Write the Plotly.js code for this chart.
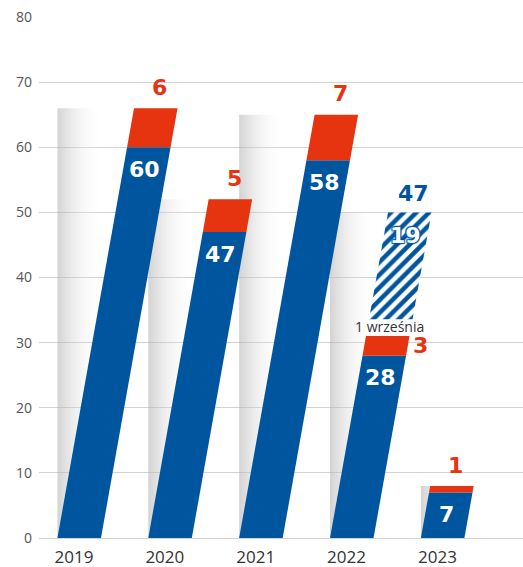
<!DOCTYPE html>
<html>
<head>
<meta charset="utf-8">
<script src="https://cdn.plot.ly/plotly-3.0.1.min.js"></script>
<style>
html,body{margin:0;padding:0;background:#fff;}
#chart{width:523px;height:567px;}
</style>
</head>
<body>
<div id="chart"></div>
<script>
// ---- data ----
const years = ['2019', '2020', '2021', '2022', '2023'];
const paid = [60, 47, 58, 28, 7];      // blue part
const extra = [6, 5, 7, 3, 1];         // red part
const planned = [0, 0, 0, 19, 0];      // hatched part
const noteText = '1 września';
const yTicks = [0, 10, 20, 30, 40, 50, 60, 70, 80];

// ---- style ----
const BLUE = '#00559f', RED = '#e5340f';
const OFF = -0.182, W = 0.479, SL = 0.01277, SHADOW_W = 0.5, GAP = 2.6;
const LABEL_FONT = 'DejaVu Sans, Verdana, sans-serif';

function px(i, y, side) { return i + OFF + side * W + SL * y; }
function para(i, y0, y1) {
  return {
    x: [px(i, y0, 0), px(i, y0, 1), px(i, y1, 1), px(i, y1, 0), px(i, y0, 0)],
    y: [y0, y0, y1, y1, y0]
  };
}
function cx(i, y) { return px(i, y, 0.5); }

const traces = [];
const annotations = [];

// gray shadow bars
years.forEach((yr, i) => {
  const total = paid[i] + extra[i] + planned[i];
  const x0 = i + OFF, x1 = i + OFF + SHADOW_W;
  traces.push({
    type: 'scatter', mode: 'none', fill: 'toself', hoverinfo: 'skip',
    x: [x0, x1, x1, x0, x0], y: [0, 0, total, total, 0],
    fillgradient: {
      type: 'horizontal', start: x0, stop: x1,
      colorscale: [[0, 'rgba(175,175,175,0.55)'], [0.5, 'rgba(220,220,220,0.3)'], [1, 'rgba(255,255,255,0)']]
    }
  });
});

// blue bars
years.forEach((yr, i) => {
  const p = para(i, 0, paid[i]);
  traces.push({ type: 'scatter', mode: 'none', fill: 'toself', fillcolor: BLUE, hoverinfo: 'skip', x: p.x, y: p.y });
});
// red bars
years.forEach((yr, i) => {
  const p = para(i, paid[i], paid[i] + extra[i]);
  traces.push({ type: 'scatter', mode: 'none', fill: 'toself', fillcolor: RED, hoverinfo: 'skip', x: p.x, y: p.y });
});
// hatched bars
years.forEach((yr, i) => {
  if (planned[i] <= 0) return;
  const base = paid[i] + extra[i];
  const p = para(i, base + GAP, base + planned[i]);
  traces.push({
    type: 'scatter', mode: 'none', fill: 'toself', hoverinfo: 'skip', x: p.x, y: p.y,
    fillcolor: 'white',
    fillpattern: { shape: '/', fgcolor: BLUE, bgcolor: 'white', size: 9, solidity: 0.5 }
  });
});

// labels
years.forEach((yr, i) => {
  const yb = paid[i] - 3.4;
  annotations.push({
    x: cx(i, yb), y: yb, text: String(paid[i]), showarrow: false,
    font: { family: LABEL_FONT, size: 22, color: 'white', weight: 'bold' }
  });
  const top = paid[i] + extra[i];
  if (planned[i] > 0) {
    const ym = paid[i] + extra[i] / 2;
    annotations.push({
      x: px(i, ym, 1), y: ym, text: String(extra[i]), showarrow: false, xanchor: 'left', xshift: 3,
      font: { family: LABEL_FONT, size: 22, color: RED, weight: 'bold' }
    });
    const yn = top + GAP / 2;
    annotations.push({
      x: cx(i, yn), y: yn, text: noteText, showarrow: false, yshift: 1,
      font: { family: 'Open Sans, sans-serif', size: 14, color: '#333' }
    });
    const full = top + planned[i];
    const yt = full + 2.9;
    annotations.push({
      x: cx(i, yt), y: yt, text: String(paid[i] + planned[i]), showarrow: false,
      font: { family: LABEL_FONT, size: 22, color: BLUE, weight: 'bold' }
    });
    const yi = full - 3.5;
    annotations.push({
      x: cx(i, yi), y: yi, text: String(planned[i]), showarrow: false,
      font: { family: LABEL_FONT, size: 22, color: 'white', weight: 'bold',
              shadow: '1px 1px 1px ' + BLUE + ', -1px -1px 1px ' + BLUE + ', 1px -1px 1px ' + BLUE + ', -1px 1px 1px ' + BLUE }
    });
  } else {
    const yr2 = top + 3.2;
    annotations.push({
      x: cx(i, yr2), y: yr2, text: String(extra[i]), showarrow: false,
      font: { family: LABEL_FONT, size: 22, color: RED, weight: 'bold' }
    });
  }
});

const layout = {
  width: 523, height: 567,
  margin: { l: 39, r: 0, t: 17, b: 29 },
  paper_bgcolor: 'white', plot_bgcolor: 'white',
  showlegend: false,
  xaxis: {
    range: [-0.385, 4.942], tickmode: 'array', tickvals: years.map((_, i) => i), ticktext: years,
    showgrid: false, zeroline: false, showline: false, ticks: '', ticklabelstandoff: 7,
    tickfont: { family: 'Open Sans, sans-serif', size: 17, color: '#333' },
    fixedrange: true
  },
  yaxis: {
    range: [0, 80], tickmode: 'array', tickvals: yTicks,
    showgrid: true, gridcolor: '#d2d2d2', gridwidth: 1,
    zeroline: true, zerolinecolor: '#d2d2d2', zerolinewidth: 1,
    showline: false, ticks: '', ticklabelstandoff: 6,
    tickfont: { family: 'Open Sans, sans-serif', size: 14, color: '#555' },
    fixedrange: true
  },
  annotations: annotations
};

Plotly.newPlot('chart', traces, layout, { displayModeBar: false, staticPlot: true });
</script>
</body>
</html>
